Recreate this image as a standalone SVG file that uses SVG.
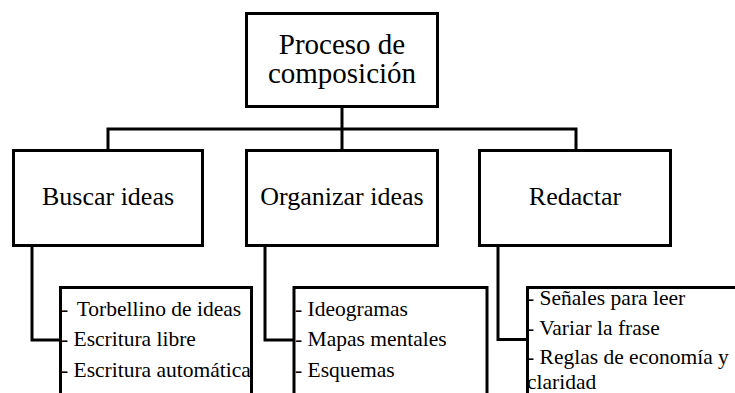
<svg xmlns="http://www.w3.org/2000/svg" width="735" height="393" viewBox="0 0 735 393">
<style>
.box{fill:#fff;stroke:#000;stroke-width:3}
.ln{fill:none;stroke:#000;stroke-width:3}
text{font-family:"Liberation Serif",Tinos,"Noto Serif","DejaVu Serif","Times New Roman",Times,serif;fill:#000}
.t1{font-size:29px;text-anchor:middle}
.t2{font-size:26px;text-anchor:middle}
.t3{font-size:21.5px}
</style>
<rect width="735" height="393" fill="#fff"/>
<g id="connectors">
<path class="ln" d="M342,108 V129"/>
<path class="ln" d="M108,150 V129 H576 V150"/>
<path class="ln" d="M342,129 V150"/>
<path class="ln" d="M32,247 V340 H60"/>
<path class="ln" d="M265,247 V340 H294"/>
<path class="ln" d="M498,247 V339.5 H527"/>
</g>
<g id="root">
<rect class="box" x="246.5" y="13.5" width="191" height="93"/>
<text class="t1" x="342" y="54">Proceso de</text>
<text class="t1" x="342" y="83">composición</text>
</g>
<g id="buscar">
<rect class="box" x="13.5" y="150.5" width="189" height="95"/>
<text class="t2" x="108" y="204.5">Buscar ideas</text>
</g>
<g id="organizar">
<rect class="box" x="246.5" y="150.5" width="191" height="95"/>
<text class="t2" x="342" y="204.5">Organizar ideas</text>
</g>
<g id="redactar">
<rect class="box" x="479.5" y="150.5" width="191" height="95"/>
<text class="t2" x="575" y="205">Redactar</text>
</g>
<g id="lista-buscar">
<rect class="box" x="60.5" y="287.5" width="191" height="130"/>
<text class="t3" x="61" y="315.5">- <tspan dx="3.5">Torbellino de ideas</tspan></text>
<text class="t3" x="61" y="346">- Escritura libre</text>
<text class="t3" x="61" y="376.5">- Escritura automática</text>
</g>
<g id="lista-organizar">
<rect class="box" x="294" y="287.5" width="193" height="130"/>
<text class="t3" x="295" y="315.5">- Ideogramas</text>
<text class="t3" x="295" y="346">- Mapas mentales</text>
<text class="t3" x="295" y="376.5">- Esquemas</text>
</g>
<g id="lista-redactar">
<rect class="box" x="527.5" y="287.5" width="230" height="130"/>
<text class="t3" x="527" y="305">- Señales para leer</text>
<text class="t3" x="527" y="335">- Variar la frase</text>
<text class="t3" x="527" y="364">- Reglas de economía y</text>
<text class="t3" x="527" y="389">claridad</text>
</g>
</svg>
